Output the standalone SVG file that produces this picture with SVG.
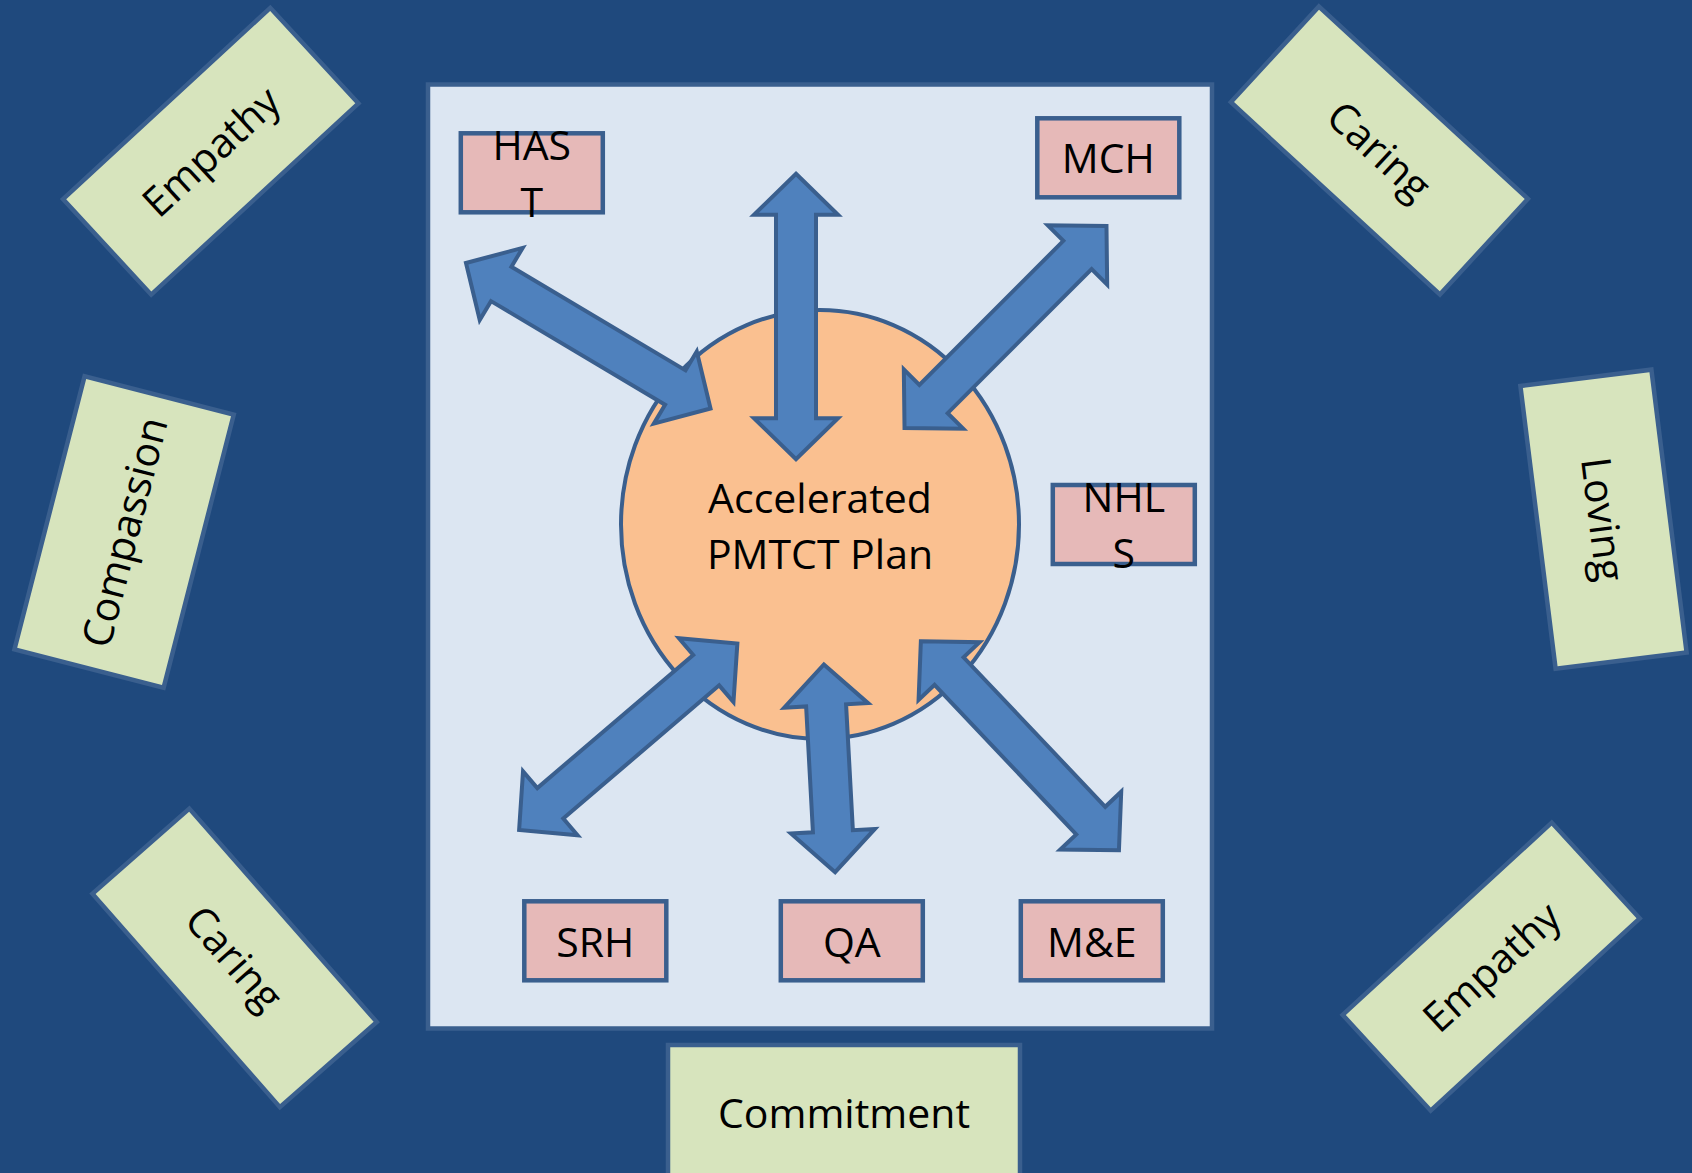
<svg xmlns="http://www.w3.org/2000/svg" width="1692" height="1173" viewBox="0 0 1692 1173">
<style>
.bg{fill:#1F497D}
.panel{fill:#DCE6F2;stroke:#3A5F8E;stroke-width:4.5}
.box{fill:#E6B9B8;stroke:#3A5F8E;stroke-width:4.5}
.card{fill:#D7E4BD;stroke:#3A5F8E;stroke-width:4.5}
.hub{fill:#FAC090;stroke:#3A5F8E;stroke-width:4}
.arr{fill:#4F81BD;stroke:#3A5F8E;stroke-width:4;stroke-linejoin:miter}
text{font-family:"Open Sans","Liberation Sans",sans-serif;font-size:41px;fill:#000;text-anchor:middle}
</style>
<rect class="bg" x="0" y="0" width="1692" height="1173"/>

<g id="card-empathy-tl" transform="translate(210.75,151.25) rotate(-42.7)">
<rect class="card" x="-141" y="-65" width="282" height="130"/>
<text x="0" y="15">Empathy</text>
</g>
<g id="card-caring-tr" transform="translate(1379.4,150.5) rotate(42.6)">
<rect class="card" x="-142" y="-65" width="284" height="130"/>
<text x="0" y="15">Caring</text>
</g>
<g id="card-compassion" transform="translate(124.1,532) rotate(-75.6)">
<rect class="card" x="-141" y="-77" width="282" height="154"/>
<text x="0" y="15">Compassion</text>
</g>
<g id="card-loving" transform="translate(1603.5,519.2) rotate(82.9)">
<rect class="card" x="-142.5" y="-66" width="285" height="132"/>
<text x="0" y="15">Loving</text>
</g>
<g id="card-caring-bl" transform="translate(234.6,957.9) rotate(48.7)">
<rect class="card" x="-142" y="-64.5" width="284" height="129"/>
<text x="0" y="15">Caring</text>
</g>
<g id="card-empathy-br" transform="translate(1491.2,966.6) rotate(-42.6)">
<rect class="card" x="-142" y="-65" width="284" height="130"/>
<text x="0" y="15">Empathy</text>
</g>
<g id="card-commitment">
<rect class="card" x="668" y="1045" width="352" height="200"/>
<text x="844" y="1128">Commitment</text>
</g>

<g id="panel">
<rect class="panel" x="428" y="84.5" width="784" height="944"/>
</g>

<g id="hub">
<ellipse class="hub" cx="820" cy="524.5" rx="199" ry="214.5"/>
<text x="820" y="513">Accelerated</text>
<text x="820" y="569">PMTCT Plan</text>
</g>

<g id="box-hast">
<rect class="box" x="460.8" y="133.3" width="142" height="79"/>
<text x="531.8" y="160">HAS</text>
<text x="531.8" y="216.5">T</text>
</g>
<g id="box-mch">
<rect class="box" x="1037.3" y="118.3" width="142" height="79"/>
<text x="1108.3" y="172.5">MCH</text>
</g>
<g id="box-nhls">
<rect class="box" x="1052.8" y="485" width="142" height="79"/>
<text x="1123.8" y="512">NHL</text>
<text x="1123.8" y="568">S</text>
</g>
<g id="box-srh">
<rect class="box" x="524.3" y="901.3" width="142" height="79"/>
<text x="595.3" y="956.5">SRH</text>
</g>
<g id="box-qa">
<rect class="box" x="780.8" y="901.3" width="142" height="79"/>
<text x="851.8" y="956.5">QA</text>
</g>
<g id="box-me">
<rect class="box" x="1020.8" y="901.3" width="142" height="79"/>
<text x="1091.8" y="956.5">M&amp;E</text>
</g>

<g id="connectors">
<path class="arr" transform="translate(588.25,335.75) rotate(30.76)" d="M-142.3 0L-101.3-42L-101.3-20L101.3-20L101.3-42L142.3 0L101.3 42L101.3 20L-101.3 20L-101.3 42Z"/>
<path class="arr" transform="translate(796,316.5) rotate(90)" d="M-142.7 0L-101.7-42L-101.7-20L101.7-20L101.7-42L142.7 0L101.7 42L101.7 20L-101.7 20L-101.7 42Z"/>
<path class="arr" transform="translate(1005.5,327) rotate(-45)" d="M-142.8 0L-101.8-42L-101.8-20L101.8-20L101.8-42L142.8 0L101.8 42L101.8 20L-101.8 20L-101.8 42Z"/>
<path class="arr" transform="translate(628.25,736.7) rotate(-40.5)" d="M-143.5 0L-102.5-42L-102.5-20L102.5-20L102.5-42L143.5 0L102.5 42L102.5 20L-102.5 20L-102.5 42Z"/>
<path class="arr" transform="translate(829.5,768.3) rotate(86.9)" d="M-104 0L-63-42L-63-20L63-20L63-42L104 0L63 42L63 20L-63 20L-63 42Z"/>
<path class="arr" transform="translate(1019.9,745.8) rotate(46.55)" d="M-144 0L-103-42L-103-20L103-20L103-42L144 0L103 42L103 20L-103 20L-103 42Z"/>
</g>
</svg>
